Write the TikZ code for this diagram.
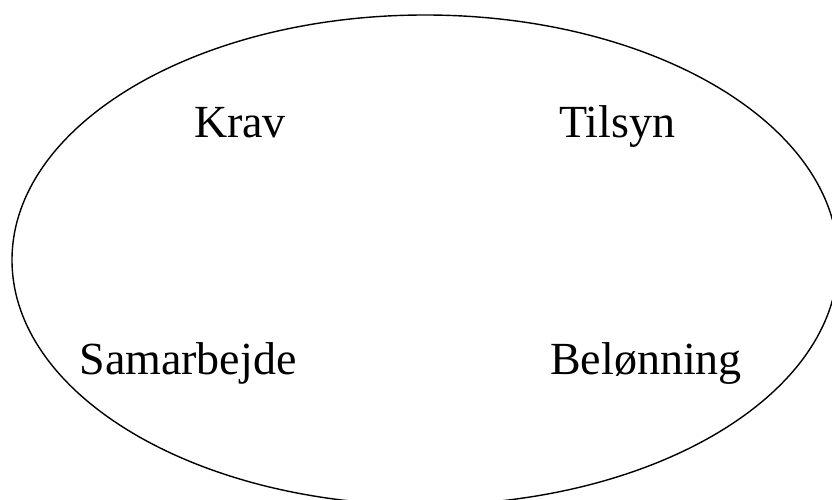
\documentclass[tikz,border=0pt]{standalone}
\usepackage{fontspec}
\setmainfont{Liberation Serif}
\usepackage{tikz}
\usetikzlibrary{positioning}

\begin{document}
\begin{tikzpicture}
    [%%%%%%%%%%%%%%%%%%%%%%%%%%%%%%
        x=1pt, y=1pt,
        word/.style={anchor=base, inner sep=0pt, font=\fontsize{46}{50}\selectfont}
    ]%%%%%%%%%%%%%%%%%%%%%%%%%%%%%%
\useasboundingbox (0,0) rectangle (832,500);
\clip (0,0) rectangle (832,500);

\draw [line width=1.4pt] (425,240) ellipse [x radius=413, y radius=245];

\node[word] (krav) at (240,362) {Krav};
\node[word] (tilsyn) at (617,362) {Tilsyn};

\node[word] (samarbejde) at (188,125) {Samarbejde};
\node[word] (belonning) at (646,125) {Belønning};

\end{tikzpicture}
\end{document}
